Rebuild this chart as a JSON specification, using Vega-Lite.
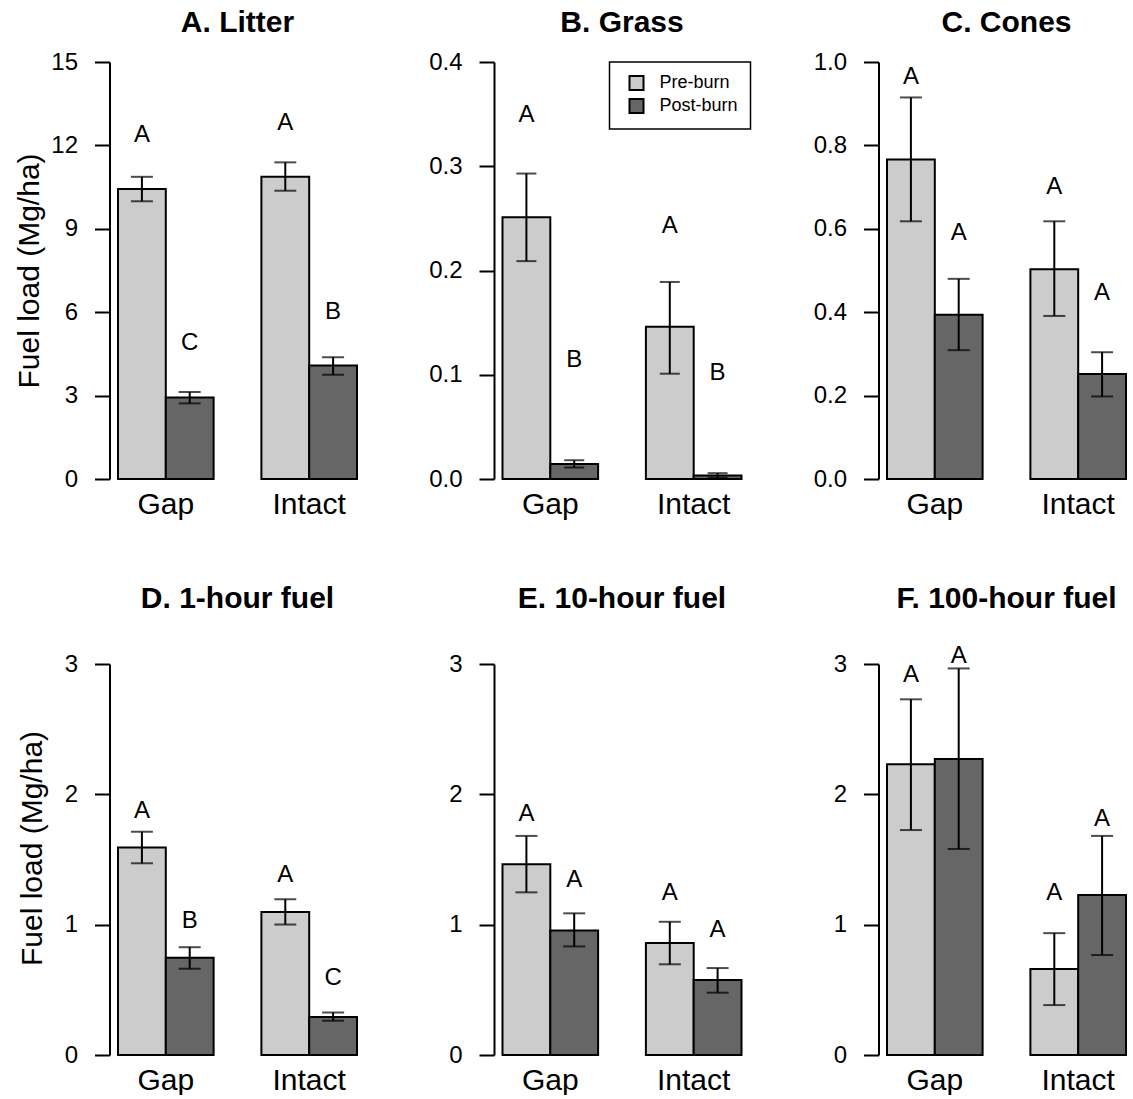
{
  "$schema": "https://vega.github.io/schema/vega-lite/v6.json",
  "padding": {"left": 14.5, "top": 8, "right": 0, "bottom": 0},
  "datasets": {
    "fuel": [
      {"panel": "A", "site": "Gap", "period": "Pre-burn", "mean": 10.43, "lo": 9.99, "hi": 10.87, "letter": "A", "label_y": 12.38},
      {"panel": "A", "site": "Gap", "period": "Post-burn", "mean": 2.93, "lo": 2.72, "hi": 3.13, "letter": "C", "label_y": 4.89},
      {"panel": "A", "site": "Intact", "period": "Pre-burn", "mean": 10.87, "lo": 10.37, "hi": 11.39, "letter": "A", "label_y": 12.8},
      {"panel": "A", "site": "Intact", "period": "Post-burn", "mean": 4.08, "lo": 3.75, "hi": 4.38, "letter": "B", "label_y": 6.0},
      {"panel": "B", "site": "Gap", "period": "Pre-burn", "mean": 0.251, "lo": 0.209, "hi": 0.293, "letter": "A", "label_y": 0.349},
      {"panel": "B", "site": "Gap", "period": "Post-burn", "mean": 0.0145, "lo": 0.011, "hi": 0.018, "letter": "B", "label_y": 0.114},
      {"panel": "B", "site": "Intact", "period": "Pre-burn", "mean": 0.146, "lo": 0.101, "hi": 0.189, "letter": "A", "label_y": 0.243},
      {"panel": "B", "site": "Intact", "period": "Post-burn", "mean": 0.0033, "lo": 0.0013, "hi": 0.0056, "letter": "B", "label_y": 0.102},
      {"panel": "C", "site": "Gap", "period": "Pre-burn", "mean": 0.766, "lo": 0.618, "hi": 0.915, "letter": "A", "label_y": 0.964},
      {"panel": "C", "site": "Gap", "period": "Post-burn", "mean": 0.394, "lo": 0.309, "hi": 0.48, "letter": "A", "label_y": 0.59},
      {"panel": "C", "site": "Intact", "period": "Pre-burn", "mean": 0.503, "lo": 0.391, "hi": 0.618, "letter": "A", "label_y": 0.701},
      {"panel": "C", "site": "Intact", "period": "Post-burn", "mean": 0.252, "lo": 0.198, "hi": 0.304, "letter": "A", "label_y": 0.447},
      {"panel": "D", "site": "Gap", "period": "Pre-burn", "mean": 1.592, "lo": 1.471, "hi": 1.713, "letter": "A", "label_y": 1.875},
      {"panel": "D", "site": "Gap", "period": "Post-burn", "mean": 0.746, "lo": 0.662, "hi": 0.827, "letter": "B", "label_y": 1.03},
      {"panel": "D", "site": "Intact", "period": "Pre-burn", "mean": 1.098, "lo": 1.001, "hi": 1.195, "letter": "A", "label_y": 1.384},
      {"panel": "D", "site": "Intact", "period": "Post-burn", "mean": 0.292, "lo": 0.263, "hi": 0.326, "letter": "C", "label_y": 0.588},
      {"panel": "E", "site": "Gap", "period": "Pre-burn", "mean": 1.463, "lo": 1.248, "hi": 1.681, "letter": "A", "label_y": 1.849},
      {"panel": "E", "site": "Gap", "period": "Post-burn", "mean": 0.956, "lo": 0.833, "hi": 1.087, "letter": "A", "label_y": 1.345},
      {"panel": "E", "site": "Intact", "period": "Pre-burn", "mean": 0.859, "lo": 0.696, "hi": 1.022, "letter": "A", "label_y": 1.245},
      {"panel": "E", "site": "Intact", "period": "Post-burn", "mean": 0.575, "lo": 0.478, "hi": 0.667, "letter": "A", "label_y": 0.956},
      {"panel": "F", "site": "Gap", "period": "Pre-burn", "mean": 2.23, "lo": 1.726, "hi": 2.729, "letter": "A", "label_y": 2.913},
      {"panel": "F", "site": "Gap", "period": "Post-burn", "mean": 2.272, "lo": 1.581, "hi": 2.966, "letter": "A", "label_y": 3.058},
      {"panel": "F", "site": "Intact", "period": "Pre-burn", "mean": 0.659, "lo": 0.383, "hi": 0.935, "letter": "A", "label_y": 1.245},
      {"panel": "F", "site": "Intact", "period": "Post-burn", "mean": 1.227, "lo": 0.767, "hi": 1.681, "letter": "A", "label_y": 1.812}
    ]
  },
  "data": {"name": "fuel"},
  "columns": 3,
  "spacing": {"row": 185, "column": 128.5},
  "bounds": "flush",
  "resolve": {"scale": {"x": "independent", "y": "independent", "fill": "independent"}, "axis": {"x": "independent", "y": "independent"}, "legend": {"fill": "independent"}},
  "concat": [
    {
      "title": {"text": "A. Litter", "offset": 12},
      "width": 256, "height": 417,
      "transform": [{"filter": "datum.panel === 'A'"}],
      "encoding": {
        "x": {"field": "site", "type": "nominal", "sort": ["Gap", "Intact"], "scale": {"paddingInner": 0.3333, "paddingOuter": 0.0593}, "axis": {"title": null}},
        "xOffset": {"field": "period", "type": "nominal", "sort": ["Pre-burn", "Post-burn"], "scale": {"paddingInner": 0, "paddingOuter": 0}}
      },
      "layer": [
        {"mark": {"type": "bar", "stroke": "black", "strokeWidth": 2}, "encoding": {"y": {"field": "mean", "type": "quantitative", "scale": {"domain": [0, 15], "nice": false}, "axis": {"values": [0, 3, 6, 9, 12, 15], "title": "Fuel load (Mg/ha)", "titlePadding": 6}}, "fill": {"field": "period", "type": "nominal", "scale": {"domain": ["Pre-burn", "Post-burn"], "range": ["#cccccc", "#666666"]}, "legend": null}}},
        {"mark": {"type": "rule", "strokeWidth": 2, "color": "black"}, "encoding": {"y": {"field": "lo", "type": "quantitative", "axis": {"values": [0, 3, 6, 9, 12, 15], "title": "Fuel load (Mg/ha)", "titlePadding": 6}}, "y2": {"field": "hi"}}},
        {"mark": {"type": "tick", "size": 22, "thickness": 2, "color": "black"}, "encoding": {"y": {"field": "lo", "type": "quantitative", "axis": {"values": [0, 3, 6, 9, 12, 15], "title": "Fuel load (Mg/ha)", "titlePadding": 6}}}},
        {"mark": {"type": "tick", "size": 22, "thickness": 2, "color": "black"}, "encoding": {"y": {"field": "hi", "type": "quantitative", "axis": {"values": [0, 3, 6, 9, 12, 15], "title": "Fuel load (Mg/ha)", "titlePadding": 6}}}},
        {"mark": {"type": "text", "fontSize": 24, "baseline": "middle", "color": "black"}, "encoding": {"y": {"field": "label_y", "type": "quantitative", "axis": {"values": [0, 3, 6, 9, 12, 15], "title": "Fuel load (Mg/ha)", "titlePadding": 6}}, "text": {"field": "letter"}}}
      ]
    },
    {
      "title": {"text": "B. Grass", "offset": 12},
      "width": 256, "height": 417,
      "transform": [{"filter": "datum.panel === 'B'"}],
      "encoding": {
        "x": {"field": "site", "type": "nominal", "sort": ["Gap", "Intact"], "scale": {"paddingInner": 0.3333, "paddingOuter": 0.0593}, "axis": {"title": null}},
        "xOffset": {"field": "period", "type": "nominal", "sort": ["Pre-burn", "Post-burn"], "scale": {"paddingInner": 0, "paddingOuter": 0}}
      },
      "layer": [
        {"mark": {"type": "bar", "stroke": "black", "strokeWidth": 2}, "encoding": {"y": {"field": "mean", "type": "quantitative", "scale": {"domain": [0, 0.4], "nice": false}, "axis": {"values": [0, 0.1, 0.2, 0.3, 0.4], "format": ".1f", "title": null}}, "fill": {"field": "period", "type": "nominal", "sort": ["Pre-burn", "Post-burn"], "scale": {"domain": ["Pre-burn", "Post-burn"], "range": ["#cccccc", "#666666"]}, "legend": {"orient": "none", "legendX": 115.5, "legendY": 0, "title": null}}}},
        {"mark": {"type": "rule", "strokeWidth": 2, "color": "black"}, "encoding": {"y": {"field": "lo", "type": "quantitative", "axis": {"values": [0, 0.1, 0.2, 0.3, 0.4], "format": ".1f", "title": null}}, "y2": {"field": "hi"}}},
        {"mark": {"type": "tick", "size": 20, "thickness": 2, "color": "black"}, "encoding": {"y": {"field": "lo", "type": "quantitative", "axis": {"values": [0, 0.1, 0.2, 0.3, 0.4], "format": ".1f", "title": null}}}},
        {"mark": {"type": "tick", "size": 20, "thickness": 2, "color": "black"}, "encoding": {"y": {"field": "hi", "type": "quantitative", "axis": {"values": [0, 0.1, 0.2, 0.3, 0.4], "format": ".1f", "title": null}}}},
        {"mark": {"type": "text", "fontSize": 24, "baseline": "middle", "color": "black"}, "encoding": {"y": {"field": "label_y", "type": "quantitative", "axis": {"values": [0, 0.1, 0.2, 0.3, 0.4], "format": ".1f", "title": null}}, "text": {"field": "letter"}}}
      ]
    },
    {
      "title": {"text": "C. Cones", "offset": 12},
      "width": 256, "height": 417,
      "transform": [{"filter": "datum.panel === 'C'"}],
      "encoding": {
        "x": {"field": "site", "type": "nominal", "sort": ["Gap", "Intact"], "scale": {"paddingInner": 0.3333, "paddingOuter": 0.0593}, "axis": {"title": null}},
        "xOffset": {"field": "period", "type": "nominal", "sort": ["Pre-burn", "Post-burn"], "scale": {"paddingInner": 0, "paddingOuter": 0}}
      },
      "layer": [
        {"mark": {"type": "bar", "stroke": "black", "strokeWidth": 2}, "encoding": {"y": {"field": "mean", "type": "quantitative", "scale": {"domain": [0, 1], "nice": false}, "axis": {"values": [0, 0.2, 0.4, 0.6, 0.8, 1.0], "format": ".1f", "title": null}}, "fill": {"field": "period", "type": "nominal", "scale": {"domain": ["Pre-burn", "Post-burn"], "range": ["#cccccc", "#666666"]}, "legend": null}}},
        {"mark": {"type": "rule", "strokeWidth": 2, "color": "black"}, "encoding": {"y": {"field": "lo", "type": "quantitative", "axis": {"values": [0, 0.2, 0.4, 0.6, 0.8, 1.0], "format": ".1f", "title": null}}, "y2": {"field": "hi"}}},
        {"mark": {"type": "tick", "size": 22, "thickness": 2, "color": "black"}, "encoding": {"y": {"field": "lo", "type": "quantitative", "axis": {"values": [0, 0.2, 0.4, 0.6, 0.8, 1.0], "format": ".1f", "title": null}}}},
        {"mark": {"type": "tick", "size": 22, "thickness": 2, "color": "black"}, "encoding": {"y": {"field": "hi", "type": "quantitative", "axis": {"values": [0, 0.2, 0.4, 0.6, 0.8, 1.0], "format": ".1f", "title": null}}}},
        {"mark": {"type": "text", "fontSize": 24, "baseline": "middle", "color": "black"}, "encoding": {"y": {"field": "label_y", "type": "quantitative", "axis": {"values": [0, 0.2, 0.4, 0.6, 0.8, 1.0], "format": ".1f", "title": null}}, "text": {"field": "letter"}}}
      ]
    },
    {
      "title": {"text": "D. 1-hour fuel", "offset": 38},
      "width": 256, "height": 391,
      "transform": [{"filter": "datum.panel === 'D'"}],
      "encoding": {
        "x": {"field": "site", "type": "nominal", "sort": ["Gap", "Intact"], "scale": {"paddingInner": 0.3333, "paddingOuter": 0.0593}, "axis": {"title": null}},
        "xOffset": {"field": "period", "type": "nominal", "sort": ["Pre-burn", "Post-burn"], "scale": {"paddingInner": 0, "paddingOuter": 0}}
      },
      "layer": [
        {"mark": {"type": "bar", "stroke": "black", "strokeWidth": 2}, "encoding": {"y": {"field": "mean", "type": "quantitative", "scale": {"domain": [0, 3], "nice": false}, "axis": {"values": [0, 1, 2, 3], "title": "Fuel load (Mg/ha)", "titlePadding": 17, "titleY": 184}}, "fill": {"field": "period", "type": "nominal", "scale": {"domain": ["Pre-burn", "Post-burn"], "range": ["#cccccc", "#666666"]}, "legend": null}}},
        {"mark": {"type": "rule", "strokeWidth": 2, "color": "black"}, "encoding": {"y": {"field": "lo", "type": "quantitative", "axis": {"values": [0, 1, 2, 3], "title": "Fuel load (Mg/ha)", "titlePadding": 17, "titleY": 184}}, "y2": {"field": "hi"}}},
        {"mark": {"type": "tick", "size": 22, "thickness": 2, "color": "black"}, "encoding": {"y": {"field": "lo", "type": "quantitative", "axis": {"values": [0, 1, 2, 3], "title": "Fuel load (Mg/ha)", "titlePadding": 17, "titleY": 184}}}},
        {"mark": {"type": "tick", "size": 22, "thickness": 2, "color": "black"}, "encoding": {"y": {"field": "hi", "type": "quantitative", "axis": {"values": [0, 1, 2, 3], "title": "Fuel load (Mg/ha)", "titlePadding": 17, "titleY": 184}}}},
        {"mark": {"type": "text", "fontSize": 24, "baseline": "middle", "color": "black"}, "encoding": {"y": {"field": "label_y", "type": "quantitative", "axis": {"values": [0, 1, 2, 3], "title": "Fuel load (Mg/ha)", "titlePadding": 17, "titleY": 184}}, "text": {"field": "letter"}}}
      ]
    },
    {
      "title": {"text": "E. 10-hour fuel", "offset": 38},
      "width": 256, "height": 391,
      "transform": [{"filter": "datum.panel === 'E'"}],
      "encoding": {
        "x": {"field": "site", "type": "nominal", "sort": ["Gap", "Intact"], "scale": {"paddingInner": 0.3333, "paddingOuter": 0.0593}, "axis": {"title": null}},
        "xOffset": {"field": "period", "type": "nominal", "sort": ["Pre-burn", "Post-burn"], "scale": {"paddingInner": 0, "paddingOuter": 0}}
      },
      "layer": [
        {"mark": {"type": "bar", "stroke": "black", "strokeWidth": 2}, "encoding": {"y": {"field": "mean", "type": "quantitative", "scale": {"domain": [0, 3], "nice": false}, "axis": {"values": [0, 1, 2, 3], "title": null}}, "fill": {"field": "period", "type": "nominal", "scale": {"domain": ["Pre-burn", "Post-burn"], "range": ["#cccccc", "#666666"]}, "legend": null}}},
        {"mark": {"type": "rule", "strokeWidth": 2, "color": "black"}, "encoding": {"y": {"field": "lo", "type": "quantitative", "axis": {"values": [0, 1, 2, 3], "title": null}}, "y2": {"field": "hi"}}},
        {"mark": {"type": "tick", "size": 22, "thickness": 2, "color": "black"}, "encoding": {"y": {"field": "lo", "type": "quantitative", "axis": {"values": [0, 1, 2, 3], "title": null}}}},
        {"mark": {"type": "tick", "size": 22, "thickness": 2, "color": "black"}, "encoding": {"y": {"field": "hi", "type": "quantitative", "axis": {"values": [0, 1, 2, 3], "title": null}}}},
        {"mark": {"type": "text", "fontSize": 24, "baseline": "middle", "color": "black"}, "encoding": {"y": {"field": "label_y", "type": "quantitative", "axis": {"values": [0, 1, 2, 3], "title": null}}, "text": {"field": "letter"}}}
      ]
    },
    {
      "title": {"text": "F. 100-hour fuel", "offset": 30},
      "width": 256, "height": 391,
      "transform": [{"filter": "datum.panel === 'F'"}],
      "encoding": {
        "x": {"field": "site", "type": "nominal", "sort": ["Gap", "Intact"], "scale": {"paddingInner": 0.3333, "paddingOuter": 0.0593}, "axis": {"title": null}},
        "xOffset": {"field": "period", "type": "nominal", "sort": ["Pre-burn", "Post-burn"], "scale": {"paddingInner": 0, "paddingOuter": 0}}
      },
      "layer": [
        {"mark": {"type": "bar", "stroke": "black", "strokeWidth": 2}, "encoding": {"y": {"field": "mean", "type": "quantitative", "scale": {"domain": [0, 3], "nice": false}, "axis": {"values": [0, 1, 2, 3], "title": null}}, "fill": {"field": "period", "type": "nominal", "scale": {"domain": ["Pre-burn", "Post-burn"], "range": ["#cccccc", "#666666"]}, "legend": null}}},
        {"mark": {"type": "rule", "strokeWidth": 2, "color": "black"}, "encoding": {"y": {"field": "lo", "type": "quantitative", "axis": {"values": [0, 1, 2, 3], "title": null}}, "y2": {"field": "hi"}}},
        {"mark": {"type": "tick", "size": 22, "thickness": 2, "color": "black"}, "encoding": {"y": {"field": "lo", "type": "quantitative", "axis": {"values": [0, 1, 2, 3], "title": null}}}},
        {"mark": {"type": "tick", "size": 22, "thickness": 2, "color": "black"}, "encoding": {"y": {"field": "hi", "type": "quantitative", "axis": {"values": [0, 1, 2, 3], "title": null}}}},
        {"mark": {"type": "text", "fontSize": 24, "baseline": "middle", "color": "black"}, "encoding": {"y": {"field": "label_y", "type": "quantitative", "axis": {"values": [0, 1, 2, 3], "title": null}}, "text": {"field": "letter"}}}
      ]
    }
  ],
  "config": {
    "font": "Liberation Sans",
    "view": {"stroke": null},
    "title": {"fontSize": 30, "fontWeight": "bold", "color": "black", "font": "Liberation Sans", "anchor": "middle"},
    "axis": {"grid": false, "domainColor": "black", "tickColor": "black", "labelColor": "black", "titleColor": "black", "labelFont": "Liberation Sans", "titleFont": "Liberation Sans"},
    "axisY": {"domainWidth": 2, "tickWidth": 2, "tickSize": 15, "labelFontSize": 24, "labelPadding": 17, "titleFontSize": 30, "titleFontWeight": "normal"},
    "axisX": {"domain": false, "ticks": false, "labelFontSize": 30, "labelPadding": 10, "labelAngle": 0},
    "legend": {"strokeColor": "black", "strokeWidth": 1.5, "padding": 12, "symbolType": "square", "symbolSize": 196, "symbolStrokeColor": "black", "symbolStrokeWidth": 2, "labelFontSize": 18, "labelColor": "black", "labelFont": "Liberation Sans", "symbolOffset": 6, "labelOffset": 14, "rowPadding": 1, "symbolOpacity": 1}
  }
}
